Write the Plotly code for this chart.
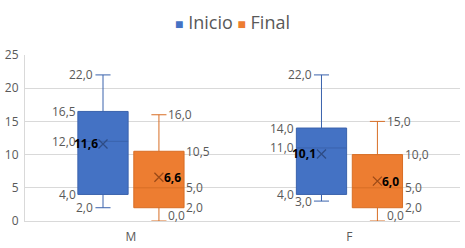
import plotly.graph_objects as go

# ---- data ----
categories = ["M", "F"]
series_names = ["Inicio", "Final"]

inicio_min = [2.0, 3.0]
inicio_q1 = [4.0, 4.0]
inicio_median = [12.0, 11.0]
inicio_q3 = [16.5, 14.0]
inicio_max = [22.0, 22.0]
inicio_mean = [11.6, 10.1]

final_min = [0.0, 0.0]
final_q1 = [2.0, 2.0]
final_median = [5.0, 5.0]
final_q3 = [10.5, 10.0]
final_max = [16.0, 15.0]
final_mean = [6.6, 6.0]

y_ticks = [0, 5, 10, 15, 20, 25]

# ---- styles ----
FONT = "Open Sans"
GRAY = "#595959"
BOX_W = 0.23
WHISK = 0.3
OFFSETS = [-0.128, 0.128]
FILLS = ["#4472C4", "#ED7D31"]
LINES = ["#3A62AC", "#D86E25"]
MEANC = ["#2E4C85", "#9C4A17"]

series = [
    dict(name=series_names[0], mn=inicio_min, q1=inicio_q1, med=inicio_median,
         q3=inicio_q3, mx=inicio_max, mean=inicio_mean, side=-1),
    dict(name=series_names[1], mn=final_min, q1=final_q1, med=final_median,
         q3=final_q3, mx=final_max, mean=final_mean, side=1),
]


def fmt(v):
    return f"{v:.1f}".replace(".", ",")


fig = go.Figure()
annotations = []

for k, s in enumerate(series):
    xs = [i + OFFSETS[k] for i in range(len(categories))]
    fig.add_trace(go.Box(
        x=xs, q1=s["q1"], median=s["med"], q3=s["q3"],
        lowerfence=s["mn"], upperfence=s["mx"],
        width=BOX_W, whiskerwidth=WHISK, boxpoints=False,
        fillcolor=FILLS[k], line=dict(color=LINES[k], width=1),
        name=s["name"], showlegend=False,
    ))
    fig.add_trace(go.Scatter(
        x=xs, y=s["mean"], mode="markers", showlegend=False,
        marker=dict(symbol="x-thin", size=9,
                    line=dict(color=MEANC[k], width=1.3)),
    ))
    side = s["side"]
    anchor = "right" if side < 0 else "left"
    half = BOX_W / 2
    cap = half * WHISK
    for i, xc in enumerate(xs):
        items = [
            (s["mx"][i], xc + side * cap),
            (s["q3"][i], xc + side * half),
            (s["med"][i], xc + side * half),
            (s["q1"][i], xc + side * half),
            (s["mn"][i], xc + side * cap),
        ]
        for v, xp in items:
            annotations.append(dict(
                x=xp, y=v, xref="x", yref="y", text=fmt(v), showarrow=False,
                xanchor=anchor, yanchor="middle",
                yshift=6 if v < 0.8 else 0,
                font=dict(family=FONT, size=12, color=GRAY),
            ))
        annotations.append(dict(
            x=xc, y=s["mean"][i], xref="x", yref="y",
            text="<b>" + fmt(s["mean"][i]) + "</b>", showarrow=False,
            xanchor=anchor, yanchor="middle", xshift=side * 3,
            font=dict(family=FONT, size=12, color="#000000"),
        ))

legend_text = (
    f'<span style="color:{FILLS[0]};font-size:14px">■</span> {series_names[0]}'
    f' <span style="color:{FILLS[1]};font-size:14px">■</span> {series_names[1]}'
)
annotations.append(dict(
    x=0.477, y=1, xref="paper", yref="paper", text=legend_text,
    showarrow=False, xanchor="center", yanchor="middle", yshift=33,
    font=dict(family=FONT, size=18, color=GRAY),
))

fig.update_layout(
    width=465, height=248,
    margin=dict(l=25, r=5, t=55, b=27, autoexpand=False),
    paper_bgcolor="white", plot_bgcolor="white",
    showlegend=False,
    annotations=annotations,
    xaxis=dict(
        range=[-0.485, 1.506], tickvals=list(range(len(categories))),
        ticktext=categories, showgrid=False, zeroline=False,
        showline=True, linecolor="#D9D9D9", linewidth=1,
        ticks="", ticklabelstandoff=5, automargin=False,
        tickfont=dict(family=FONT, size=12, color=GRAY),
    ),
    yaxis=dict(
        range=[0, 25], tickvals=y_ticks, showgrid=True,
        gridcolor="#D9D9D9", gridwidth=1, zeroline=False,
        showline=True, linecolor="#D9D9D9", linewidth=1,
        ticks="", ticklabelstandoff=3, automargin=False,
        tickfont=dict(family=FONT, size=12, color=GRAY),
    ),
)

fig.write_html("out.html",
               config={"displayModeBar": False},
               post_script="document.body.style.margin='0';"
                           "document.body.style.overflow='hidden';")
